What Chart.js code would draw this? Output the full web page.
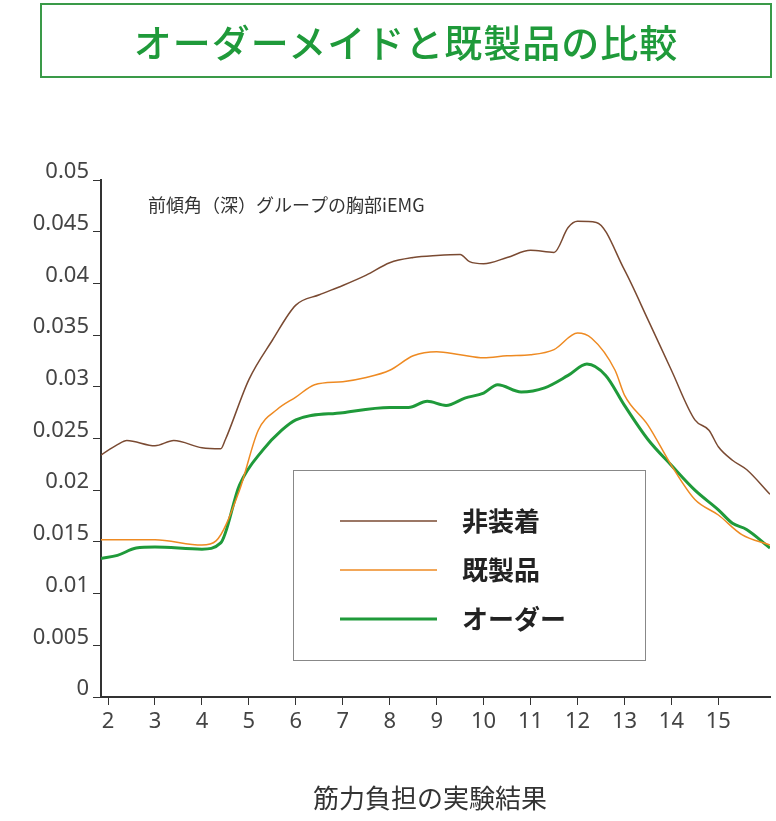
<!DOCTYPE html>
<html><head><meta charset="utf-8">
<script src="https://cdn.jsdelivr.net/npm/chart.js@4"></script>
<style>
body{margin:0;background:#fff;font-family:"Noto Sans CJK JP","Noto Sans",sans-serif}
#wrap{position:relative;width:776px;height:821px}
#title{position:absolute;left:40px;top:3px;width:732px;height:75px;border:2px solid #3a9a48;box-sizing:border-box;
color:#1f9a3a;font-size:38px;font-weight:500;text-align:center;line-height:71px;letter-spacing:1px}
canvas{position:absolute;left:0;top:0}
</style></head><body>
<div id="wrap"><canvas id="c" width="776" height="821"></canvas><div id="title">オーダーメイドと既製品の比較</div></div>
<script>
// x positions and readings for each series
const xNone = [1.85,2.2,2.4,3,3.4,4,4.4,4.5,5,5.5,6,6.5,7,7.5,8,8.5,9,9.5,9.7,10,10.5,11,11.5,11.8,12,12.4,13,13.5,14,14.5,14.8,15,15.3,15.6,16.1];
const yNone = [0.0234,0.0244,0.0248,0.0243,0.0248,0.0241,0.024,0.0249,0.0307,0.0345,0.0379,0.0389,0.0398,0.0408,0.042,0.0425,0.0427,0.0428,0.0421,0.0419,0.0425,0.0432,0.043,0.0454,0.046,0.0459,0.0413,0.0365,0.0316,0.0268,0.0258,0.0242,0.0229,0.022,0.0196];
const xReady = [1.85,3,4,4.3,4.8,5.2,5.6,6,6.4,7,7.5,8,8.5,9,9.5,10,10.5,11,11.5,12,12.3,12.8,13,13.5,14,14.5,15,15.5,16.1];
const yReady = [0.0152,0.0152,0.0147,0.0151,0.02,0.0258,0.0278,0.029,0.0302,0.0305,0.0309,0.0316,0.033,0.0334,0.0331,0.0328,0.033,0.0331,0.0336,0.0352,0.0347,0.0316,0.0292,0.0263,0.0224,0.0191,0.0176,0.0157,0.0147];
const xOrder = [1.85,2.2,2.6,3,4,4.4,4.8,5.3,5.7,6,7,8,8.4,8.8,9.2,9.6,10,10.3,10.8,11.3,11.8,12.2,12.6,13,13.5,14,14.5,15,15.3,15.6,16.1];
const yOrder = [0.0134,0.0137,0.0144,0.0145,0.0143,0.0149,0.0205,0.0239,0.0258,0.0268,0.0275,0.028,0.028,0.0286,0.0282,0.0289,0.0294,0.0302,0.0295,0.0299,0.0311,0.0322,0.0311,0.0282,0.0249,0.0224,0.02,0.0181,0.0168,0.0162,0.0144];
const seriesNames = ['非装着','既製品','オーダー'];
const xTicks = [2,3,4,5,6,7,8,9,10,11,12,13,14,15];

const pts = (xs, ys) => xs.map((x, i) => ({x: x, y: ys[i]}));

const extras = {
  id: 'extras',
  afterDraw(chart) {
    const ctx = chart.ctx;
    ctx.save();
    ctx.fillStyle = '#333';
    ctx.font = '18px "Noto Sans CJK JP"';
    ctx.textBaseline = 'middle';
    ctx.fillText('前傾角（深）グループの胸部iEMG', 148, 205);
    ctx.font = '26px "Noto Sans CJK JP"';
    ctx.textAlign = 'center';
    ctx.fillText('筋力負担の実験結果', 430, 798);
    // legend box
    ctx.fillStyle = '#fff';
    ctx.fillRect(293, 470, 352, 190);
    ctx.strokeStyle = '#888';
    ctx.lineWidth = 1;
    ctx.strokeRect(293.5, 470.5, 352, 190);
    ctx.textAlign = 'left';
    ctx.font = 'bold 26px "Noto Sans CJK JP"';
    chart.data.datasets.forEach((ds, i) => {
      const y = 521 + i * 49;
      ctx.strokeStyle = ds.borderColor;
      ctx.lineWidth = ds.borderWidth;
      ctx.beginPath(); ctx.moveTo(340, y); ctx.lineTo(437, y); ctx.stroke();
      ctx.fillStyle = '#222';
      ctx.fillText(ds.label, 462, y);
    });
    ctx.restore();
  }
};

new Chart(document.getElementById('c'), {
  type: 'line',
  data: {
    datasets: [
      {label: seriesNames[0], data: pts(xNone, yNone), borderColor: '#7a4a32', borderWidth: 1.5},
      {label: seriesNames[1], data: pts(xReady, yReady), borderColor: '#ee8a22', borderWidth: 1.5},
      {label: seriesNames[2], data: pts(xOrder, yOrder), borderColor: '#1f9a3a', borderWidth: 3}
    ]
  },
  plugins: [extras],
  options: {
    responsive: false,
    animation: false,
    layout: {padding: {top: 180, right: 6, left: 0, bottom: 0}},
    elements: {point: {radius: 0}, line: {tension: 0.4, cubicInterpolationMode: 'monotone'}},
    plugins: {legend: {display: false}, tooltip: {enabled: false}},
    scales: {
      x: {
        type: 'linear', min: 1.85, max: 16.1,
        afterBuildTicks: (s) => { s.ticks = xTicks.map(v => ({value: v})); },
        afterFit: (s) => { s.height = 124; },
        border: {color: '#333', width: 2},
        grid: {drawOnChartArea: false, color: '#333', tickLength: 8},
        ticks: {color: '#444', font: {size: 22, family: 'Noto Sans'}, padding: 4}
      },
      y: {
        min: 0, max: 0.05,
        afterFit: (s) => { s.width = 101; },
        border: {color: '#333', width: 2},
        grid: {drawOnChartArea: false, color: '#333', tickLength: 8},
        ticks: {stepSize: 0.005, color: '#444', font: {size: 22, family: 'Noto Sans'}, padding: 4, labelOffset: -8,
          callback: v => Number(v.toFixed(3)).toString()}
      }
    }
  }
});
</script></body></html>
